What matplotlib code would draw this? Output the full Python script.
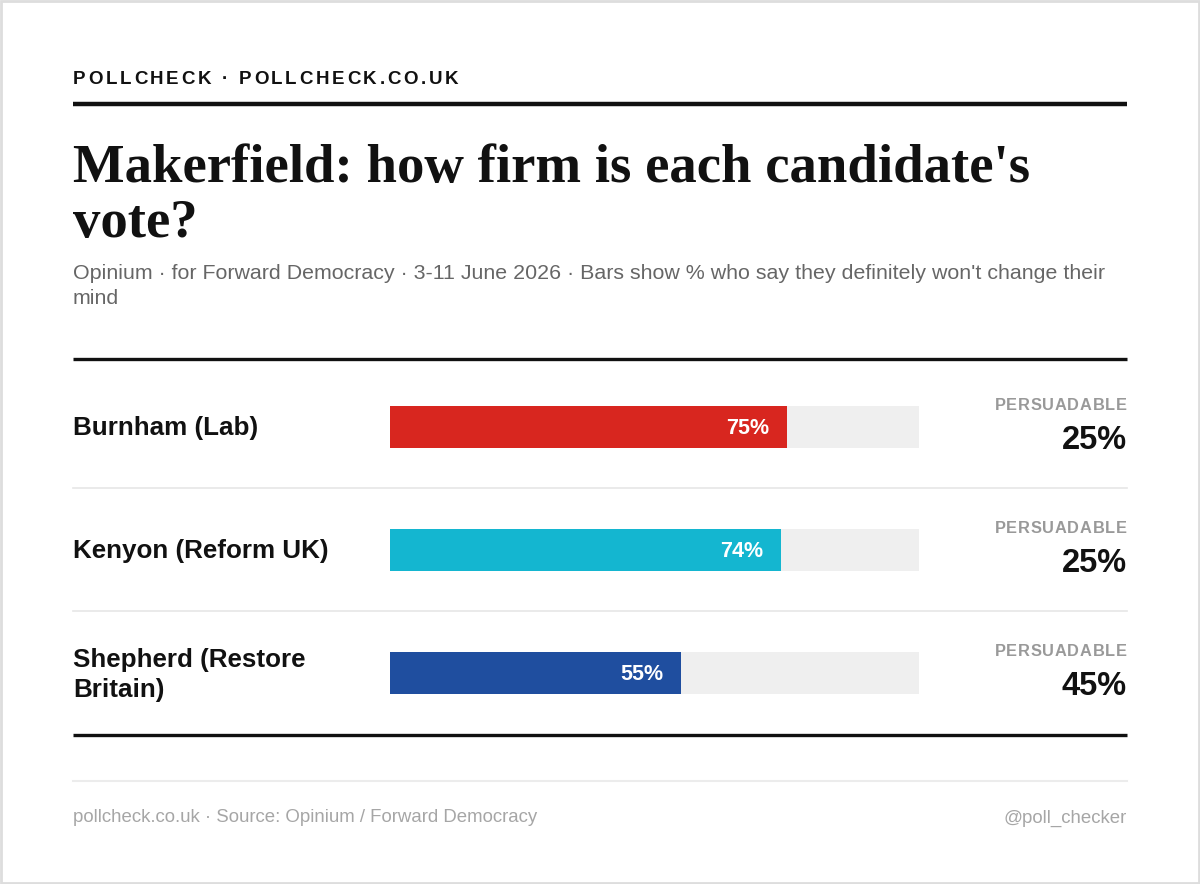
import matplotlib
matplotlib.use("Agg")
import matplotlib.pyplot as plt
from matplotlib.transforms import blended_transform_factory

# Datos
candidates = ["Burnham (Lab)", "Kenyon (Reform UK)", "Shepherd (Restore\nBritain)"]
firm = [75, 74, 55]
persuadable = [25, 25, 45]
colors = ["#d8261f", "#14b6d0", "#1f4e9f"]

header = "POLLCHECK · POLLCHECK.CO.UK"
title_lines = ["Makerfield: how firm is each candidate's", "vote?"]
subtitle_lines = ["Opinium · for Forward Democracy · 3-11 June 2026 · Bars show % who say they "
                  "definitely won't change their", "mind"]
footer_left = "pollcheck.co.uk · Source: Opinium / Forward Democracy"
footer_right = "@poll_checker"

W, H = 1200, 884
fig = plt.figure(figsize=(W / 100, H / 100), dpi=100)
fig.patch.set_facecolor("white")

# Fondo en coordenadas de píxel
bg = fig.add_axes([0, 0, 1, 1])
bg.set_xlim(0, W)
bg.set_ylim(H, 0)
bg.axis("off")
bg.add_patch(plt.Rectangle((1, 1), W - 2, H - 2, fill=False, edgecolor="#dddddd", lw=2))

sans = "Liberation Sans"
renderer = fig.canvas.get_renderer()


def spaced_text(x, y, s, spacing, ha="left", **kw):
    # texto con espaciado entre letras
    widths = []
    for ch in s:
        t = bg.text(0, 0, ch, **kw)
        bb = t.get_window_extent(renderer=renderer)
        widths.append(bb.width)
        t.remove()
    total = sum(widths) + spacing * (len(s) - 1)
    if ha == "right":
        x = x - total
    for ch, w in zip(s, widths):
        bg.text(x, y, ch, ha="left", va="baseline", **kw)
        x += w + spacing


spaced_text(73, 84, header, 2.7, fontsize=13.5, fontweight="bold", family=sans,
            color="#111111")
bg.plot([73, 1127], [104, 104], color="#111111", lw=3.2, solid_capstyle="butt")

for k, line in enumerate(title_lines):
    bg.text(73, 182 + 55 * k, line, fontsize=39.4, fontweight="bold",
            family="Liberation Serif", color="#111111", va="baseline")
for k, line in enumerate(subtitle_lines):
    bg.text(73, 279 + 25 * k, line, fontsize=15.4, family=sans, color="#666666",
            va="baseline")

bg.plot([73, 1127], [359, 359], color="#111111", lw=2.4, solid_capstyle="butt")
bg.plot([73, 1127], [488, 488], color="#e6e6e6", lw=1.2)
bg.plot([73, 1127], [611, 611], color="#e6e6e6", lw=1.2)
bg.plot([73, 1127], [735, 735], color="#111111", lw=2.4, solid_capstyle="butt")
bg.plot([73, 1127], [781, 781], color="#ececec", lw=1.5)

bg.text(73, 818, footer_left, fontsize=13.4, family=sans, color="#a6a6a6", va="center")
bg.text(1127, 818, footer_right, fontsize=13.4, family=sans, color="#a6a6a6",
        va="center", ha="right")

# Barras
pitch = 123.5
top, bottom = 406, 694
ax = fig.add_axes([390 / W, (H - bottom) / H, 529 / W, (bottom - top) / H])
pad = 21 / pitch
ax.set_xlim(0, 100)
ax.set_ylim(len(firm) - 1 + pad, -pad)
ax.axis("off")
ypos = list(range(len(firm)))
ax.barh(ypos, [100] * len(firm), height=2 * pad, color="#efefef")
ax.barh(ypos, firm, height=2 * pad, color=colors)

tr = blended_transform_factory(bg.transData, ax.transData)
for i, (name, f, p) in enumerate(zip(candidates, firm, persuadable)):
    ax.text(f - 3.4, i + 1.5 / pitch, f"{f}%", color="white", fontsize=15.5,
            fontweight="bold", family=sans, ha="right", va="center")
    bg.text(73, i + 1.5 / pitch, name, transform=tr, fontsize=18.7, fontweight="bold",
            family=sans, color="#111111", va="center", linespacing=1.32)
    spaced_text(1127, i - 17 / pitch, "PERSUADABLE", 0.75, ha="right", transform=tr,
                fontsize=11.8, fontweight="bold", family=sans, color="#999999")
    bg.text(1127, i + 13.5 / pitch, f"{p}%", transform=tr, fontsize=23.5,
            fontweight="bold", family=sans, color="#111111", ha="right", va="center")

fig.savefig("out.png", dpi=100)
